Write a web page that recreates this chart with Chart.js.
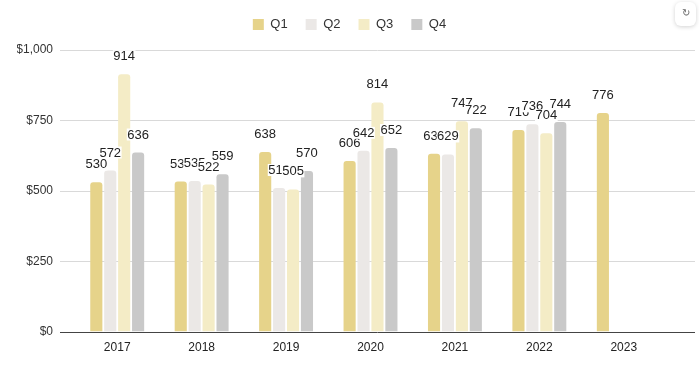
<!DOCTYPE html>
<html>
<head>
<meta charset="utf-8">
<script src="https://cdn.jsdelivr.net/npm/chart.js@4.4.0/dist/chart.umd.min.js"></script>
<style>
    body { margin: 0; background: #fff; font-family: 'Liberation Sans', Arial, sans-serif; }
    #wrap { position: relative; width: 699px; height: 370px; }
    #refresh {
        position: absolute; left: 675px; top: 2px; width: 21px; height: 24px;
        background: #fff; border-radius: 6px; box-shadow: 0 1px 4px rgba(0,0,0,0.18);
        font-size: 10px; color: #666; text-align: center; line-height: 22px;
    }
</style>
</head>
<body>
<div id="wrap">
    <canvas id="grafico" width="699" height="370"></canvas>
    <div id="refresh">↻</div>
</div>
<script>
const anos = ['2017', '2018', '2019', '2020', '2021', '2022', '2023'];
const q1 = [530, 533, 638, 606, 632, 716, 776];
const q2 = [572, 535, 510, 642, 629, 736, null];
const q3 = [914, 522, 505, 814, 747, 704, null];
const q4 = [636, 559, 570, 652, 722, 744, null];
const ticksY = [0, 250, 500, 750, 1000];

// linhas horizontais que passam da area do grafico ate a borda direita
const linhasGrade = {
    id: 'linhasGrade',
    beforeDatasetsDraw(chart) {
        const ctx = chart.ctx;
        const y = chart.scales.y;
        ctx.save();
        ticksY.forEach(v => {
            const py = Math.round(y.getPixelForValue(v)) + 0.5;
            ctx.strokeStyle = v === 0 ? '#444' : '#d9d9d9';
            ctx.lineWidth = 1;
            ctx.beginPath();
            ctx.moveTo(60, py);
            ctx.lineTo(695, py);
            ctx.stroke();
        });
        ctx.restore();
    }
};

// legenda: mais espaco embaixo e centrada na largura toda
const ajusteLegenda = {
    id: 'ajusteLegenda',
    beforeInit(chart) {
        const fitOriginal = chart.legend.fit;
        chart.legend.fit = function () {
            fitOriginal.bind(chart.legend)();
            this.height += 9;
        };
    },
    afterLayout(chart) {
        chart.legend.left += 8;
        chart.legend.right += 8;
    }
};

// valores em cima das barras, com fundo branco
const rotulos = {
    id: 'rotulos',
    afterDatasetsDraw(chart) {
        const ctx = chart.ctx;
        ctx.save();
        ctx.font = '13px "Liberation Sans", Arial, sans-serif';
        ctx.textAlign = 'center';
        ctx.textBaseline = 'alphabetic';
        chart.data.datasets.forEach((ds, i) => {
            const meta = chart.getDatasetMeta(i);
            meta.data.forEach((bar, j) => {
                const v = ds.data[j];
                if (v === null || v === undefined) return;
                const txt = String(v);
                const w = ctx.measureText(txt).width;
                const base = bar.y - 14;
                ctx.fillStyle = '#fff';
                ctx.fillRect(bar.x - w / 2 - 0.5, base - 10, w + 1, 12);
                ctx.fillStyle = '#222';
                ctx.fillText(txt, bar.x, base);
            });
        });
        ctx.restore();
    }
};

const estiloBarra = {
    borderRadius: { topLeft: 3, topRight: 3 },
    borderSkipped: 'bottom',
    categoryPercentage: 0.66,
    barPercentage: 0.87
};

new Chart(document.getElementById('grafico'), {
    type: 'bar',
    data: {
        labels: anos,
        datasets: [
            { label: 'Q1', data: q1, backgroundColor: '#e6d38a', ...estiloBarra },
            { label: 'Q2', data: q2, backgroundColor: '#ebe8e6', ...estiloBarra },
            { label: 'Q3', data: q3, backgroundColor: '#f4ecc6', ...estiloBarra },
            { label: 'Q4', data: q4, backgroundColor: '#c9c9c9', ...estiloBarra }
        ]
    },
    options: {
        responsive: false,
        animation: false,
        layout: { padding: { top: 0, left: 17, right: 33, bottom: 14 } },
        plugins: {
            legend: {
                position: 'top',
                labels: {
                    boxWidth: 11,
                    boxHeight: 11,
                    padding: 18,
                    color: '#333',
                    font: { size: 13, family: '"Liberation Sans", Arial, sans-serif' }
                }
            },
            tooltip: { enabled: false }
        },
        scales: {
            x: {
                grid: { display: false },
                border: { display: false },
                ticks: {
                    color: '#222',
                    padding: 1,
                    font: { size: 12, family: '"Liberation Sans", Arial, sans-serif' }
                }
            },
            y: {
                min: 0,
                max: 1000,
                grid: { display: false },
                border: { display: false },
                afterFit: (axis) => { axis.width = 58; },
                afterBuildTicks: (axis) => { axis.ticks = ticksY.map(v => ({ value: v })); },
                ticks: {
                    color: '#333',
                    padding: 14,
                    font: { size: 12, family: '"Liberation Sans", Arial, sans-serif' },
                    callback: (v) => '$' + v.toLocaleString('en-US')
                }
            }
        }
    },
    plugins: [linhasGrade, ajusteLegenda, rotulos]
});
</script>
</body>
</html>
